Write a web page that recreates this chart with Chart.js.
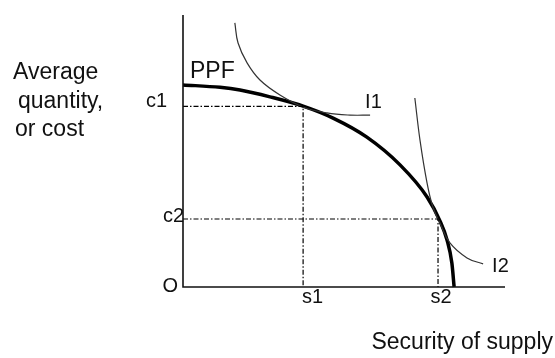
<!DOCTYPE html>
<html>
<head>
<meta charset="utf-8">
<script src="https://cdn.jsdelivr.net/npm/chart.js@4.4.1/dist/chart.umd.min.js"></script>
<style>
  html, body { margin: 0; padding: 0; background: #fff; }
  #wrap { width: 555px; height: 358px; position: relative; }
</style>
</head>
<body>
<div id="wrap"><canvas id="ppfChart"></canvas></div>
<script>
// Production possibility frontier (security of supply vs average quantity/cost)
var ppfX = [0, 11.5, 17.7, 27.0, 37.3, 46.6, 57.1, 67.4, 75.8, 79.8, 82.0, 83.5, 84.2];
var ppfY = [74.3, 73.4, 72.4, 69.9, 66.5, 62.1, 55.1, 44.9, 33.1, 24.3, 17.3, 8.8, 0];

// indifference curves
var i1X = [16.1, 17.1, 19.9, 23.9, 30.1, 37.3, 44.7, 51.9, 58.1];
var i1Y = [97.1, 89.7, 82.4, 76.1, 70.6, 66.2, 64.0, 63.2, 63.2];
var i2X = [72.0, 73.6, 75.8, 77.6, 79.8, 82.9, 88.2, 93.2];
var i2Y = [69.5, 54.0, 38.2, 29.4, 23.5, 16.2, 10.7, 8.5];

// tangency points
var sVals = [37.3, 79.2];
var cVals = [66.4, 25.0];
var sLabels = ['s1', 's2'];
var cLabels = ['c1', 'c2'];

var axisMax = 100;
var ink = '#111';
var font = '"Liberation Sans", Arial, sans-serif';

function toPoints(xs, ys) {
  return xs.map(function(x, i) { return { x: x, y: ys[i] }; });
}

function guide(s, c) {
  return {
    data: [{ x: 0, y: c }, { x: s, y: c }, { x: s, y: 0 }],
    borderColor: '#000',
    borderWidth: 1.2,
    borderDash: [5, 2, 1.5, 2],
    pointRadius: 0,
    tension: 0
  };
}

// thin indifference curves use plain bezier smoothing, the frontier uses monotone
function curve(points, width, mode) {
  return {
    data: points,
    borderColor: width > 2 ? '#000' : '#333',
    borderWidth: width,
    pointRadius: 0,
    tension: 0.4,
    cubicInterpolationMode: mode
  };
}

// axes and labels drawn over the scales
var annotate = {
  id: 'annotate',
  afterDatasetsDraw: function(chart) {
    var c = chart.ctx;
    var xs = chart.scales.x, ys = chart.scales.y;
    var x0 = xs.getPixelForValue(0), y0 = ys.getPixelForValue(0);
    var xEnd = xs.getPixelForValue(axisMax), yEnd = ys.getPixelForValue(axisMax);

    c.save();
    c.strokeStyle = ink;
    c.lineWidth = 1.6;
    c.beginPath();
    c.moveTo(x0, yEnd);
    c.lineTo(x0, y0);
    c.lineTo(xEnd, y0);
    c.stroke();

    c.fillStyle = ink;
    c.textBaseline = 'alphabetic';

    // value labels
    c.font = '20px ' + font;
    c.textAlign = 'right';
    c.fillText(cLabels[0], x0 - 16, ys.getPixelForValue(cVals[0]) + 1);
    c.fillText(cLabels[1], x0 + 1, ys.getPixelForValue(cVals[1]) + 3);
    c.fillText('O', x0 - 5, y0 + 5);
    c.textAlign = 'left';
    c.fillText(sLabels[0], xs.getPixelForValue(sVals[0]) - 1, y0 + 16);
    c.textAlign = 'center';
    c.fillText(sLabels[1], xs.getPixelForValue(sVals[1]) + 3, y0 + 16);

    // curve names
    c.font = '23px ' + font;
    c.textAlign = 'left';
    c.fillText('PPF', x0 + 7, ys.getPixelForValue(ppfY[0]) - 7);
    c.font = '20px ' + font;
    var i1End = i1X.length - 1, i2End = i2X.length - 1;
    c.fillText('I1', xs.getPixelForValue(i1X[i1End]) - 5, ys.getPixelForValue(i1Y[i1End]) - 7);
    c.fillText('I2', xs.getPixelForValue(i2X[i2End]) + 9, ys.getPixelForValue(i2Y[i2End]) + 8);

    // axis titles
    c.font = '23px ' + font;
    c.fillText('Average', 13, 79);
    c.fillText('quantity,', 18, 108);
    c.fillText('or cost', 15, 136);
    c.textAlign = 'right';
    c.fillText('Security of supply', 553, 349);
    c.restore();
  }
};

new Chart(document.getElementById('ppfChart'), {
  type: 'scatter',
  data: {
    datasets: [
      guide(sVals[0], cVals[0]),
      guide(sVals[1], cVals[1]),
      curve(toPoints(i1X, i1Y), 1.2, 'default'),
      curve(toPoints(i2X, i2Y), 1.2, 'default'),
      curve(toPoints(ppfX, ppfY), 3.5, 'monotone')
    ]
  },
  options: {
    responsive: true,
    maintainAspectRatio: false,
    animation: false,
    showLine: true,
    clip: false,
    layout: { padding: { left: 183, top: 15, right: 50, bottom: 71 } },
    plugins: { legend: { display: false }, tooltip: { enabled: false } },
    scales: {
      x: { type: 'linear', min: 0, max: axisMax, display: false },
      y: { type: 'linear', min: 0, max: axisMax, display: false }
    }
  },
  plugins: [annotate]
});
</script>
</body>
</html>
